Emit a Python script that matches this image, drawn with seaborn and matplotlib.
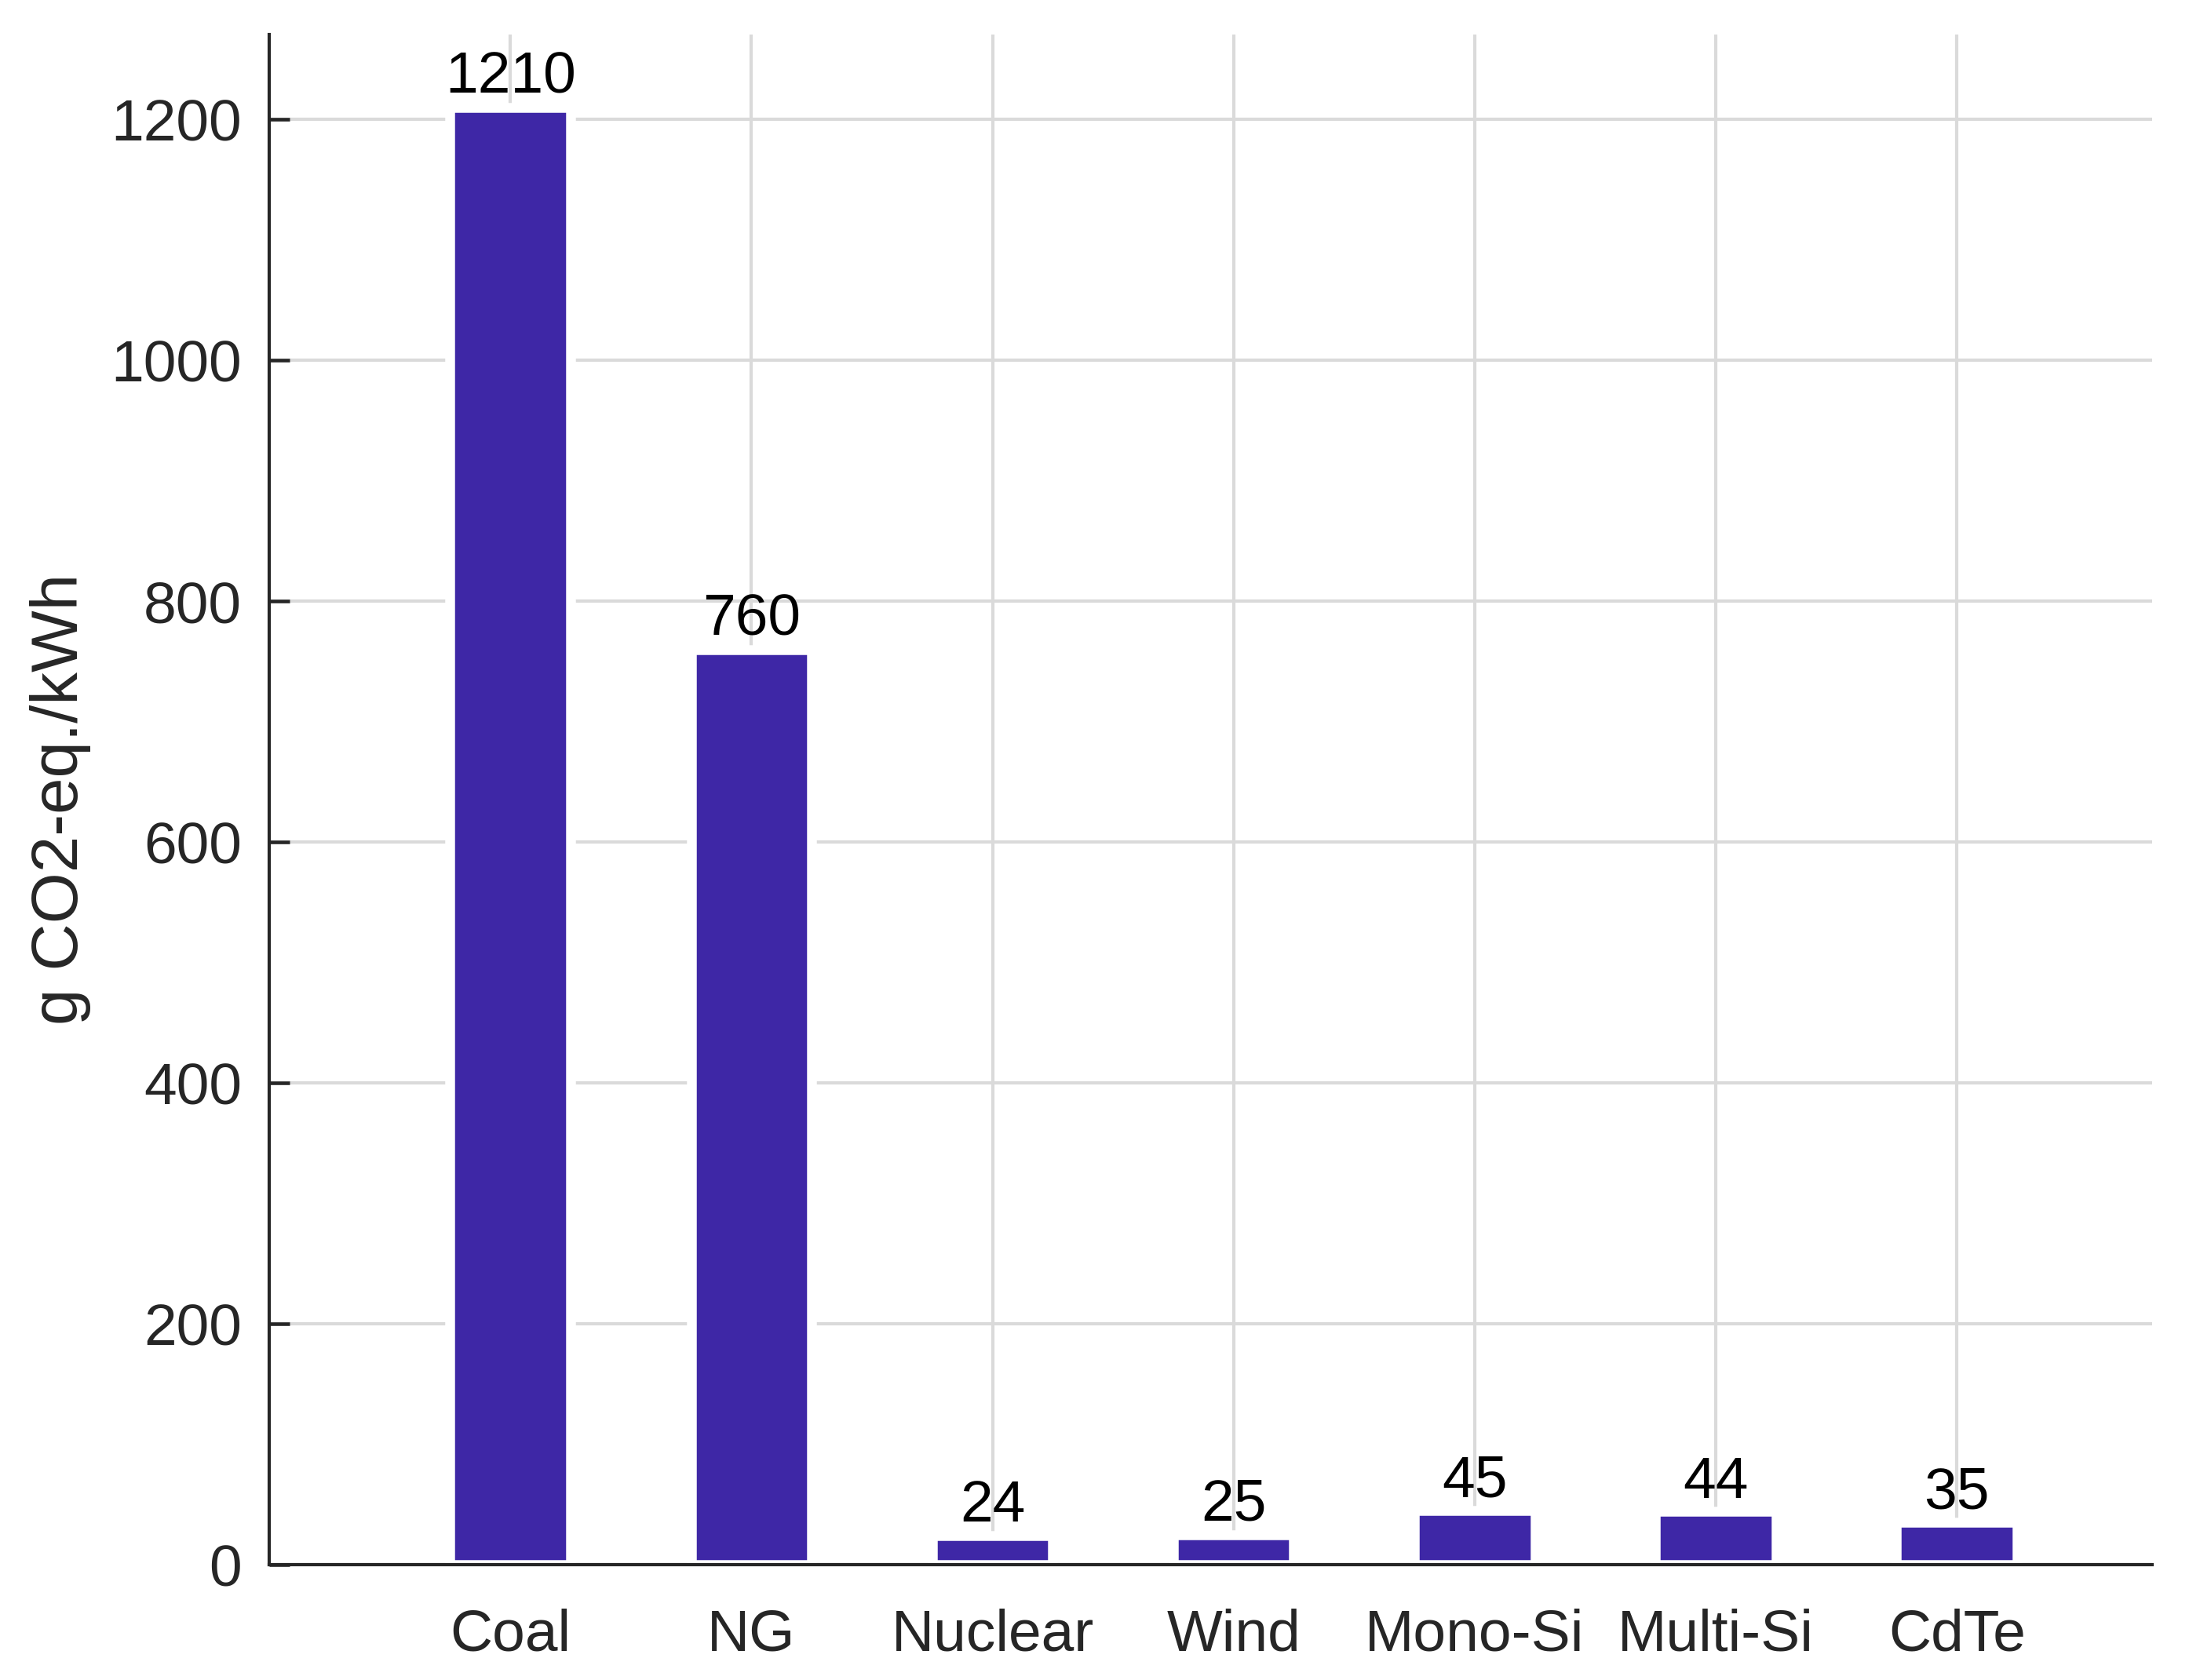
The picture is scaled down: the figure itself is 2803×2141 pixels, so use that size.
import matplotlib
matplotlib.use("Agg")
import matplotlib.pyplot as plt
import seaborn as sns
import pandas as pd

categories = ["Coal", "NG", "Nuclear", "Wind", "Mono-Si", "Multi-Si", "CdTe"]
values = [1210, 760, 24, 25, 45, 44, 35]
y_label = "g CO2-eq./kWh"
y_ticks = [0, 200, 400, 600, 800, 1000, 1200]

sns.set_theme(style="ticks")
plt.rcParams["font.family"] = ["Liberation Sans", "DejaVu Sans"]

df = pd.DataFrame({"cat": categories, "val": values})

fig = plt.figure(figsize=(2803 / 300, 2141 / 300), dpi=300)
ax = fig.add_axes([343 / 2803, 1 - 1994 / 2141, (2742 - 343) / 2803, (1994 - 44) / 2141])

sns.barplot(data=df, x="cat", y="val", color="#3E27A6", saturation=1,
            width=0.5, edgecolor="white", linewidth=3, ax=ax, zorder=2)

ax.set_xlim(-1, 6.81)
ax.set_ylim(0, max(values) * 1.05)
ax.set_yticks(y_ticks)

# grid drawn beneath bars, ticks above
for yt in y_ticks:
    ax.axhline(yt, color="#dadada", lw=1.0, zorder=0.5)
for xt in ax.get_xticks():
    ax.axvline(xt, color="#dadada", lw=1.0, zorder=0.5)

for i, v in enumerate(values):
    ax.annotate(str(v), xy=(i, v), xytext=(0, 4.3), textcoords="offset points",
                ha="center", va="baseline", fontsize=18, color="black", zorder=4)

ax.set_xlabel("")
ax.set_ylabel(y_label, fontsize=20, color="#262626", labelpad=6)
for side in ["top", "right"]:
    ax.spines[side].set_visible(False)
for side in ["left", "bottom"]:
    ax.spines[side].set_linewidth(1.0)
    ax.spines[side].set_color("#262626")
ax.tick_params(axis="both", direction="in", length=6.2, width=1.1, color="#262626",
               labelsize=18, labelcolor="#262626")
ax.tick_params(axis="x", pad=13.3)
ax.tick_params(axis="y", pad=8.4)

fig.savefig("out.png", dpi=300)
